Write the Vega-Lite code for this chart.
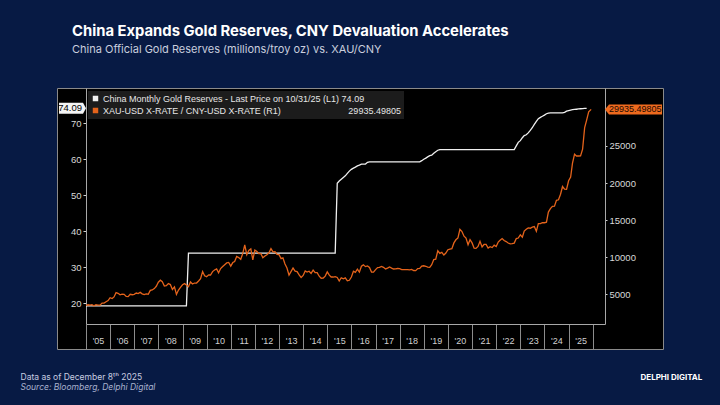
{
  "$schema": "https://vega.github.io/schema/vega-lite/v6.json",
  "width": 606,
  "height": 261,
  "autosize": {"type": "none"},
  "padding": {"left": 57, "top": 88, "right": 57, "bottom": 56},
  "background": "#071a44",
  "view": {"fill": "#000000", "stroke": "#8a8a8a", "strokeWidth": 1},
  "title": {
    "text": "China Expands Gold Reserves, CNY Devaluation Accelerates",
    "subtitle": "China Official Gold Reserves (millions/troy oz) vs. XAU/CNY",
    "anchor": "start",
    "frame": "group",
    "dx": 15,
    "offset": 33,
    "font": "Inter",
    "fontSize": 14.8,
    "fontWeight": 700,
    "color": "#ffffff",
    "subtitleFont": "Inter",
    "subtitleFontSize": 11,
    "subtitleColor": "#c9cede",
    "subtitlePadding": 5
  },
  "config": {
    "axis": {"labelFont": "Liberation Sans", "titleFont": "Inter", "grid": false}
  },
  "datasets": {
    "gold": [
      {"date": "2005-01", "value": 19.29}, {"date": "2009-03", "value": 19.29},
      {"date": "2009-04", "value": 33.89}, {"date": "2015-05", "value": 33.89},
      {"date": "2015-06", "value": 53.31}, {"date": "2015-07", "value": 53.93},
      {"date": "2015-08", "value": 54.43}, {"date": "2015-09", "value": 54.91},
      {"date": "2015-10", "value": 55.36}, {"date": "2015-11", "value": 56.04},
      {"date": "2015-12", "value": 56.66}, {"date": "2016-01", "value": 57.16},
      {"date": "2016-02", "value": 57.49}, {"date": "2016-03", "value": 57.78},
      {"date": "2016-04", "value": 58.13}, {"date": "2016-05", "value": 58.32},
      {"date": "2016-06", "value": 58.61}, {"date": "2016-07", "value": 58.61},
      {"date": "2016-08", "value": 58.61}, {"date": "2016-09", "value": 59.09},
      {"date": "2016-10", "value": 59.24}, {"date": "2018-11", "value": 59.24},
      {"date": "2018-12", "value": 59.56}, {"date": "2019-01", "value": 59.94},
      {"date": "2019-02", "value": 60.26}, {"date": "2019-03", "value": 60.62},
      {"date": "2019-04", "value": 60.94}, {"date": "2019-05", "value": 61.1},
      {"date": "2019-06", "value": 61.61}, {"date": "2019-07", "value": 62.06},
      {"date": "2019-08", "value": 62.45}, {"date": "2019-09", "value": 62.64},
      {"date": "2022-10", "value": 62.64}, {"date": "2022-11", "value": 63.67},
      {"date": "2022-12", "value": 64.64}, {"date": "2023-01", "value": 65.12},
      {"date": "2023-02", "value": 65.92}, {"date": "2023-03", "value": 66.5},
      {"date": "2023-04", "value": 66.76}, {"date": "2023-05", "value": 67.27},
      {"date": "2023-06", "value": 67.95}, {"date": "2023-07", "value": 68.69},
      {"date": "2023-08", "value": 69.62}, {"date": "2023-09", "value": 70.46},
      {"date": "2023-10", "value": 71.2}, {"date": "2023-11", "value": 71.58},
      {"date": "2023-12", "value": 71.87}, {"date": "2024-01", "value": 72.19},
      {"date": "2024-02", "value": 72.58}, {"date": "2024-03", "value": 72.74},
      {"date": "2024-04", "value": 72.8}, {"date": "2024-10", "value": 72.8},
      {"date": "2024-11", "value": 72.96}, {"date": "2024-12", "value": 73.29},
      {"date": "2025-01", "value": 73.45}, {"date": "2025-02", "value": 73.61},
      {"date": "2025-03", "value": 73.7}, {"date": "2025-04", "value": 73.77},
      {"date": "2025-05", "value": 73.83}, {"date": "2025-06", "value": 73.9},
      {"date": "2025-07", "value": 73.96}, {"date": "2025-08", "value": 74.02},
      {"date": "2025-09", "value": 74.06}, {"date": "2025-10", "value": 74.09}
    ],
    "xau": [
      {"date": "2005-01", "value": 3510}, {"date": "2005-02", "value": 3590}, {"date": "2005-03", "value": 3530}, {"date": "2005-04", "value": 3600},
      {"date": "2005-05", "value": 3450}, {"date": "2005-06", "value": 3590}, {"date": "2005-07", "value": 3550}, {"date": "2005-08", "value": 3530},
      {"date": "2005-09", "value": 3820}, {"date": "2005-10", "value": 3810}, {"date": "2005-11", "value": 3990}, {"date": "2005-12", "value": 4150},
      {"date": "2006-01", "value": 4540}, {"date": "2006-02", "value": 4430}, {"date": "2006-03", "value": 4640}, {"date": "2006-04", "value": 5220},
      {"date": "2006-05", "value": 5130}, {"date": "2006-06", "value": 4930}, {"date": "2006-07", "value": 5010}, {"date": "2006-08", "value": 4990},
      {"date": "2006-09", "value": 4720}, {"date": "2006-10", "value": 4690}, {"date": "2006-11", "value": 5000}, {"date": "2006-12", "value": 4940},
      {"date": "2007-01", "value": 5000}, {"date": "2007-02", "value": 5170}, {"date": "2007-03", "value": 5100}, {"date": "2007-04", "value": 5260},
      {"date": "2007-05", "value": 5060}, {"date": "2007-06", "value": 4960}, {"date": "2007-07", "value": 5050}, {"date": "2007-08", "value": 5010},
      {"date": "2007-09", "value": 5530}, {"date": "2007-10", "value": 5590}, {"date": "2007-11", "value": 5770}, {"date": "2007-12", "value": 6080},
      {"date": "2008-01", "value": 6630}, {"date": "2008-02", "value": 6900}, {"date": "2008-03", "value": 6700}, {"date": "2008-04", "value": 6130},
      {"date": "2008-05", "value": 6170}, {"date": "2008-06", "value": 6460}, {"date": "2008-07", "value": 6310}, {"date": "2008-08", "value": 5660},
      {"date": "2008-09", "value": 6010}, {"date": "2008-10", "value": 4990}, {"date": "2008-11", "value": 5570}, {"date": "2008-12", "value": 5940},
      {"date": "2009-01", "value": 6290}, {"date": "2009-02", "value": 6440}, {"date": "2009-03", "value": 6260}, {"date": "2009-04", "value": 6030},
      {"date": "2009-05", "value": 6660}, {"date": "2009-06", "value": 6380}, {"date": "2009-07", "value": 6520}, {"date": "2009-08", "value": 6520},
      {"date": "2009-09", "value": 6800}, {"date": "2009-10", "value": 7100}, {"date": "2009-11", "value": 8070}, {"date": "2009-12", "value": 7490},
      {"date": "2010-01", "value": 7380}, {"date": "2010-02", "value": 7620}, {"date": "2010-03", "value": 7600}, {"date": "2010-04", "value": 8060},
      {"date": "2010-05", "value": 8280}, {"date": "2010-06", "value": 8430}, {"date": "2010-07", "value": 7910}, {"date": "2010-08", "value": 8470},
      {"date": "2010-09", "value": 8740}, {"date": "2010-10", "value": 8990}, {"date": "2010-11", "value": 9230}, {"date": "2010-12", "value": 9290},
      {"date": "2011-01", "value": 8800}, {"date": "2011-02", "value": 9280}, {"date": "2011-03", "value": 9430}, {"date": "2011-04", "value": 10100},
      {"date": "2011-05", "value": 9950}, {"date": "2011-06", "value": 9720}, {"date": "2011-07", "value": 10480}, {"date": "2011-08", "value": 11650},
      {"date": "2011-09", "value": 10340}, {"date": "2011-10", "value": 10910}, {"date": "2011-11", "value": 11120}, {"date": "2011-12", "value": 9650},
      {"date": "2012-01", "value": 10960}, {"date": "2012-02", "value": 10780}, {"date": "2012-03", "value": 10490}, {"date": "2012-04", "value": 10480},
      {"date": "2012-05", "value": 9930}, {"date": "2012-06", "value": 10160}, {"date": "2012-07", "value": 10330}, {"date": "2012-08", "value": 10590},
      {"date": "2012-09", "value": 11150}, {"date": "2012-10", "value": 10730}, {"date": "2012-11", "value": 10750}, {"date": "2012-12", "value": 10370},
      {"date": "2013-01", "value": 10340}, {"date": "2013-02", "value": 9810}, {"date": "2013-03", "value": 9920}, {"date": "2013-04", "value": 9090},
      {"date": "2013-05", "value": 8540}, {"date": "2013-06", "value": 7580}, {"date": "2013-07", "value": 8050}, {"date": "2013-08", "value": 8540},
      {"date": "2013-09", "value": 8120}, {"date": "2013-10", "value": 8060}, {"date": "2013-11", "value": 7610}, {"date": "2013-12", "value": 7270},
      {"date": "2014-01", "value": 7540}, {"date": "2014-02", "value": 8150}, {"date": "2014-03", "value": 7990}, {"date": "2014-04", "value": 8110},
      {"date": "2014-05", "value": 7810}, {"date": "2014-06", "value": 8250}, {"date": "2014-07", "value": 7920}, {"date": "2014-08", "value": 7920},
      {"date": "2014-09", "value": 7440}, {"date": "2014-10", "value": 7170}, {"date": "2014-11", "value": 7190}, {"date": "2014-12", "value": 7450},
      {"date": "2015-01", "value": 8020}, {"date": "2015-02", "value": 7590}, {"date": "2015-03", "value": 7330}, {"date": "2015-04", "value": 7330},
      {"date": "2015-05", "value": 7380}, {"date": "2015-06", "value": 7270}, {"date": "2015-07", "value": 6800}, {"date": "2015-08", "value": 7230},
      {"date": "2015-09", "value": 7090}, {"date": "2015-10", "value": 7220}, {"date": "2015-11", "value": 6820}, {"date": "2015-12", "value": 6890},
      {"date": "2016-01", "value": 7330}, {"date": "2016-02", "value": 8110}, {"date": "2016-03", "value": 7960}, {"date": "2016-04", "value": 8380},
      {"date": "2016-05", "value": 7990}, {"date": "2016-06", "value": 8780}, {"date": "2016-07", "value": 8970}, {"date": "2016-08", "value": 8730},
      {"date": "2016-09", "value": 8820}, {"date": "2016-10", "value": 8610}, {"date": "2016-11", "value": 8000}, {"date": "2016-12", "value": 8000},
      {"date": "2017-01", "value": 8330}, {"date": "2017-02", "value": 8610}, {"date": "2017-03", "value": 8620}, {"date": "2017-04", "value": 8750},
      {"date": "2017-05", "value": 8640}, {"date": "2017-06", "value": 8420}, {"date": "2017-07", "value": 8530}, {"date": "2017-08", "value": 8690},
      {"date": "2017-09", "value": 8530}, {"date": "2017-10", "value": 8410}, {"date": "2017-11", "value": 8430}, {"date": "2017-12", "value": 8480},
      {"date": "2018-01", "value": 8460}, {"date": "2018-02", "value": 8340}, {"date": "2018-03", "value": 8320}, {"date": "2018-04", "value": 8320},
      {"date": "2018-05", "value": 8330}, {"date": "2018-06", "value": 8290}, {"date": "2018-07", "value": 8350}, {"date": "2018-08", "value": 8210},
      {"date": "2018-09", "value": 8190}, {"date": "2018-10", "value": 8460}, {"date": "2018-11", "value": 8480}, {"date": "2018-12", "value": 8800},
      {"date": "2019-01", "value": 8850}, {"date": "2019-02", "value": 8780}, {"date": "2019-03", "value": 8670}, {"date": "2019-04", "value": 8640},
      {"date": "2019-05", "value": 9000}, {"date": "2019-06", "value": 9680}, {"date": "2019-07", "value": 9730}, {"date": "2019-08", "value": 10870},
      {"date": "2019-09", "value": 10520}, {"date": "2019-10", "value": 10650}, {"date": "2019-11", "value": 10290}, {"date": "2019-12", "value": 10560},
      {"date": "2020-01", "value": 11010}, {"date": "2020-02", "value": 11100}, {"date": "2020-03", "value": 11160}, {"date": "2020-04", "value": 11930},
      {"date": "2020-05", "value": 12350}, {"date": "2020-06", "value": 12590}, {"date": "2020-07", "value": 13770}, {"date": "2020-08", "value": 13460},
      {"date": "2020-09", "value": 12840}, {"date": "2020-10", "value": 12570}, {"date": "2020-11", "value": 11690}, {"date": "2020-12", "value": 12370},
      {"date": "2021-01", "value": 11930}, {"date": "2021-02", "value": 11220}, {"date": "2021-03", "value": 11190}, {"date": "2021-04", "value": 11450},
      {"date": "2021-05", "value": 12140}, {"date": "2021-06", "value": 11390}, {"date": "2021-07", "value": 11720}, {"date": "2021-08", "value": 11720},
      {"date": "2021-09", "value": 11240}, {"date": "2021-10", "value": 11410}, {"date": "2021-11", "value": 11300}, {"date": "2021-12", "value": 11630},
      {"date": "2022-01", "value": 11430}, {"date": "2022-02", "value": 12050}, {"date": "2022-03", "value": 12280}, {"date": "2022-04", "value": 12520},
      {"date": "2022-05", "value": 12250}, {"date": "2022-06", "value": 12110}, {"date": "2022-07", "value": 11920}, {"date": "2022-08", "value": 11810},
      {"date": "2022-09", "value": 11820}, {"date": "2022-10", "value": 11900}, {"date": "2022-11", "value": 12520}, {"date": "2022-12", "value": 12590},
      {"date": "2023-01", "value": 13010}, {"date": "2023-02", "value": 12700}, {"date": "2023-03", "value": 13530}, {"date": "2023-04", "value": 13770},
      {"date": "2023-05", "value": 13950}, {"date": "2023-06", "value": 13910}, {"date": "2023-07", "value": 14050}, {"date": "2023-08", "value": 14140},
      {"date": "2023-09", "value": 13500}, {"date": "2023-10", "value": 14520}, {"date": "2023-11", "value": 14540}, {"date": "2023-12", "value": 14650},
      {"date": "2024-01", "value": 14650}, {"date": "2024-02", "value": 14720}, {"date": "2024-03", "value": 16090}, {"date": "2024-04", "value": 16550},
      {"date": "2024-05", "value": 16850}, {"date": "2024-06", "value": 16890}, {"date": "2024-07", "value": 17670}, {"date": "2024-08", "value": 17750},
      {"date": "2024-09", "value": 18490}, {"date": "2024-10", "value": 19540}, {"date": "2024-11", "value": 19190}, {"date": "2024-12", "value": 19160},
      {"date": "2025-01", "value": 20310}, {"date": "2025-02", "value": 20800}, {"date": "2025-03", "value": 22700}, {"date": "2025-04", "value": 23900},
      {"date": "2025-05", "value": 23650}, {"date": "2025-06", "value": 23650}, {"date": "2025-07", "value": 23660}, {"date": "2025-08", "value": 24580},
      {"date": "2025-09", "value": 27470}, {"date": "2025-10", "value": 28480}, {"date": "2025-11", "value": 29600}, {"date": "2025-12-08", "value": 29935.49805}
    ]
  },
  "layer": [
    {
      "data": {"name": "gold"},
      "layer": [
        {
          "mark": {"type": "line", "strokeWidth": 1.3},
          "encoding": {
            "x": {
              "field": "date",
              "type": "temporal",
              "scale": {
                "type": "utc",
                "nice": false,
                "domain": [
                  {"year": 2005, "month": 1, "date": 1, "utc": true},
                  {"year": 2026, "month": 7, "date": 6, "utc": true}
                ],
                "range": [29, 548]
              },
              "axis": {
                "orient": "bottom",
                "offset": -25,
                "tickCount": {"interval": "year", "step": 1},
                "format": "'%y",
                "labelExpr": "utcyear(datum.value) < 2026 ? datum.label : ''",
                "labelOffset": 12,
                "labelAlign": "center",
                "labelFlush": false,
                "labelOverlap": false,
                "labelFontSize": 9,
                "labelColor": "#d0d0d0",
                "labelPadding": -13,
                "tickSize": 25,
                "tickColor": "#8c8c8c",
                "domainColor": "#a8a8a8",
                "title": "Source: Bloomberg, Delphi Digital",
                "titleAngle": 0,
                "titleAlign": "left",
                "titleBaseline": "alphabetic",
                "titleX": -37,
                "titleY": 65,
                "titleFontSize": 8.5,
                "titleFontWeight": 400,
                "titleFontStyle": "italic",
                "titleColor": "#a9b2cf"
              }
            },
            "y": {
              "field": "value",
              "type": "quantitative",
              "scale": {"domain": [14.25, 79.72], "range": [236, 0], "zero": false, "nice": false},
              "axis": {
                "orient": "left",
                "offset": -29,
                "values": [20, 30, 40, 50, 60, 70],
                "tickSize": 3,
                "labelPadding": 2,
                "labelFontSize": 9.5,
                "labelColor": "#d8d8d8",
                "tickColor": "#d0d0d0",
                "domainColor": "#a8a8a8",
                "title": "Data as of December 8ᵗʰ 2025",
                "titleAngle": 0,
                "titleAlign": "left",
                "titleBaseline": "alphabetic",
                "titleX": -66,
                "titleY": 291,
                "titleFontSize": 8.5,
                "titleFontWeight": 400,
                "titleColor": "#c7cde0"
              }
            },
            "color": {
              "datum": "China Monthly Gold Reserves - Last Price on 10/31/25 (L1) 74.09",
              "type": "nominal",
              "scale": {
                "domain": [
                  "China Monthly Gold Reserves - Last Price on 10/31/25 (L1) 74.09",
                  "XAU-USD X-RATE / CNY-USD X-RATE (R1)\u00a0\u00a0\u00a0\u00a0\u00a0\u00a0\u00a0\u00a0\u00a0\u00a0\u00a0\u00a0\u00a0\u00a0\u00a0\u00a0\u00a0\u00a0\u00a0\u00a0\u00a0\u00a0\u00a0\u00a0\u00a0\u00a0\u00a029935.49805"
                ],
                "range": ["#efefef", "#e4631b"]
              },
              "legend": {
                "title": null,
                "orient": "none",
                "direction": "vertical",
                "legendX": 31,
                "legendY": 3,
                "fillColor": "#1c1c1c",
                "padding": 3,
                "rowPadding": 2,
                "clipHeight": 9,
                "symbolType": "square",
                "symbolSize": 6,
                "symbolStrokeWidth": 3,
                "labelFont": "Liberation Sans",
                "labelFontSize": 9,
                "labelColor": "#e6e6e6",
                "labelLimit": 500,
                "labelOffset": 3
              }
            }
          }
        },
        {
          "transform": [{"filter": "datum.value == 74.09"}],
          "mark": {"type": "point", "shape": "M0,0L-3,-5.5L-27,-5.5L-27,5.5L-3,5.5Z", "size": 4, "filled": true, "opacity": 1, "color": "#f4f4f4", "strokeWidth": 0},
          "encoding": {
            "x": {"datum": {"year": 2005, "month": 1, "date": 1, "utc": true}, "type": "temporal", "scale": {"type": "utc"}},
            "y": {"field": "value", "type": "quantitative"}
          }
        },
        {
          "transform": [{"filter": "datum.value == 74.09"}],
          "mark": {"type": "text", "align": "right", "dx": -4, "font": "Liberation Sans", "fontSize": 9.5, "color": "#000000"},
          "encoding": {
            "x": {"datum": {"year": 2005, "month": 1, "date": 1, "utc": true}, "type": "temporal", "scale": {"type": "utc"}},
            "y": {"field": "value", "type": "quantitative"},
            "text": {"field": "value", "type": "quantitative", "format": ".2f"}
          }
        }
      ]
    },
    {
      "data": {"name": "xau"},
      "layer": [
        {
          "mark": {"type": "line", "strokeWidth": 1.3},
          "encoding": {
            "x": {"field": "date", "type": "temporal", "scale": {"type": "utc"}},
            "y": {
              "field": "value",
              "type": "quantitative",
              "scale": {"domain": [994, 32822], "range": [236, 0], "zero": false, "nice": false},
              "axis": {
                "orient": "right",
                "offset": -58,
                "values": [5000, 10000, 15000, 20000, 25000],
                "format": "d",
                "tickSize": 2,
                "labelPadding": 2,
                "labelFontSize": 9.5,
                "labelColor": "#d8d8d8",
                "tickColor": "#d0d0d0",
                "domainColor": "#a8a8a8",
                "title": "DELPHI DIGITAL",
                "titleAngle": 0,
                "titleAlign": "left",
                "titleBaseline": "alphabetic",
                "titleX": 35,
                "titleY": 291,
                "titleFontSize": 8,
                "titleFontWeight": 700,
                "titleColor": "#ffffff"
              }
            },
            "color": {
              "datum": "XAU-USD X-RATE / CNY-USD X-RATE (R1)\u00a0\u00a0\u00a0\u00a0\u00a0\u00a0\u00a0\u00a0\u00a0\u00a0\u00a0\u00a0\u00a0\u00a0\u00a0\u00a0\u00a0\u00a0\u00a0\u00a0\u00a0\u00a0\u00a0\u00a0\u00a0\u00a0\u00a029935.49805",
              "type": "nominal"
            }
          }
        },
        {
          "transform": [{"filter": "datum.value == 29935.49805"}],
          "mark": {"type": "point", "shape": "M0,0L4,-5L57,-5L57,5L4,5Z", "size": 4, "filled": true, "opacity": 1, "color": "#ee6a1e", "strokeWidth": 0},
          "encoding": {
            "x": {"datum": {"year": 2026, "month": 7, "date": 6, "utc": true}, "type": "temporal", "scale": {"type": "utc"}},
            "y": {"field": "value", "type": "quantitative"}
          }
        },
        {
          "transform": [{"filter": "datum.value == 29935.49805"}],
          "mark": {"type": "text", "align": "left", "dx": 4, "font": "Liberation Sans", "fontSize": 9, "color": "#1a0800"},
          "encoding": {
            "x": {"datum": {"year": 2026, "month": 7, "date": 6, "utc": true}, "type": "temporal", "scale": {"type": "utc"}},
            "y": {"field": "value", "type": "quantitative"},
            "text": {"field": "value", "type": "quantitative", "format": ".5f"}
          }
        }
      ]
    }
  ],
  "resolve": {"scale": {"y": "independent"}}
}
